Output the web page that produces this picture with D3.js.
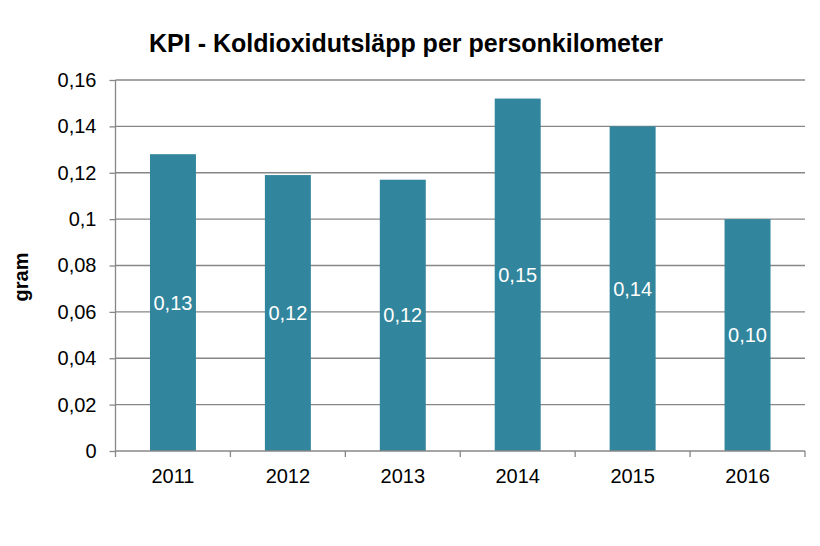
<!DOCTYPE html>
<html>
<head>
<meta charset="utf-8">
<script src="https://cdn.jsdelivr.net/npm/d3@7"></script>
<style>
  html, body { margin: 0; padding: 0; background: #fff; }
  svg { display: block; font-family: Arial, "Liberation Sans", sans-serif; }
</style>
</head>
<body>
<svg id="chart" width="820" height="546"></svg>
<script>
const categories = ["2011", "2012", "2013", "2014", "2015", "2016"];
const values = [0.128, 0.119, 0.117, 0.152, 0.140, 0.100];
const yTicks = [0, 0.02, 0.04, 0.06, 0.08, 0.1, 0.12, 0.14, 0.16];
const titleText = "KPI - Koldioxidutsläpp per personkilometer";
const yLabel = "gram";

const svg = d3.select("#chart");
const m = { left: 115.5, right: 805, top: 80, bottom: 451 };

const fmt = v => {
  if (v === 0) return "0";
  let s = d3.format(".2f")(v);
  if (s.endsWith("0")) s = s.slice(0, -1);
  return s.replace(".", ",");
};

const x = d3.scaleBand().domain(categories).range([m.left, m.right]).paddingInner(0.6).paddingOuter(0.3);
const y = d3.scaleLinear().domain([0, 0.16]).range([m.bottom, m.top]);

// gridlines
svg.append("g").selectAll("line").data(yTicks.filter(t => t > 0)).join("line")
  .attr("x1", m.left).attr("x2", m.right)
  .attr("y1", d => y(d)).attr("y2", d => y(d))
  .attr("stroke", "#878787").attr("stroke-width", 1.3);

// bars
svg.append("g").selectAll("rect").data(values).join("rect")
  .attr("x", (d, i) => x(categories[i]))
  .attr("y", d => y(d))
  .attr("width", x.bandwidth())
  .attr("height", d => y(0) - y(d))
  .attr("fill", "#31859C");

// y axis
const yAxis = d3.axisLeft(y).tickValues(yTicks).tickFormat(fmt).tickSize(6).tickPadding(13);
const gy = svg.append("g").attr("transform", `translate(${m.left},0)`).call(yAxis);
gy.select(".domain").attr("stroke", "#878787").attr("stroke-width", 1.3).attr("d", `M0,${m.top}V${m.bottom}`);
gy.selectAll(".tick line").attr("stroke", "#878787").attr("stroke-width", 1.3);
gy.selectAll(".tick text").attr("font-size", 20).attr("fill", "#000").attr("font-family", "Arial, 'Liberation Sans', sans-serif");

// x axis
const gx = svg.append("g").attr("transform", `translate(0,${m.bottom})`);
gx.append("line").attr("x1", m.left).attr("x2", m.right).attr("y1", 0).attr("y2", 0)
  .attr("stroke", "#878787").attr("stroke-width", 1.3);
const edges = categories.map(c => x(c) - x.step() * x.paddingInner() / 2).concat([m.right]);
gx.selectAll("line.tk").data(edges).join("line").attr("class", "tk")
  .attr("x1", d => d).attr("x2", d => d).attr("y1", 0).attr("y2", 6)
  .attr("stroke", "#878787").attr("stroke-width", 1.3);
gx.selectAll("text").data(categories).join("text")
  .attr("x", d => x(d) + x.bandwidth() / 2)
  .attr("y", 32)
  .attr("text-anchor", "middle")
  .attr("font-size", 20)
  .attr("fill", "#000")
  .text(d => d);

// data labels
svg.append("g").selectAll("text").data(values).join("text")
  .attr("x", (d, i) => x(categories[i]) + x.bandwidth() / 2)
  .attr("y", d => (y(d) + y(0)) / 2)
  .attr("dy", "0.35em")
  .attr("text-anchor", "middle")
  .attr("font-size", 20)
  .attr("fill", "#fff")
  .text(d => d3.format(".2f")(d).replace(".", ","));

// title
svg.append("text")
  .attr("x", 406).attr("y", 52)
  .attr("text-anchor", "middle")
  .attr("font-size", 25).attr("font-weight", "bold")
  .attr("fill", "#000")
  .text(titleText);

// y label
svg.append("text")
  .attr("transform", "translate(28,277) rotate(-90)")
  .attr("text-anchor", "middle")
  .attr("font-size", 20).attr("font-weight", "bold")
  .attr("fill", "#000")
  .text(yLabel);
</script>
</body>
</html>
